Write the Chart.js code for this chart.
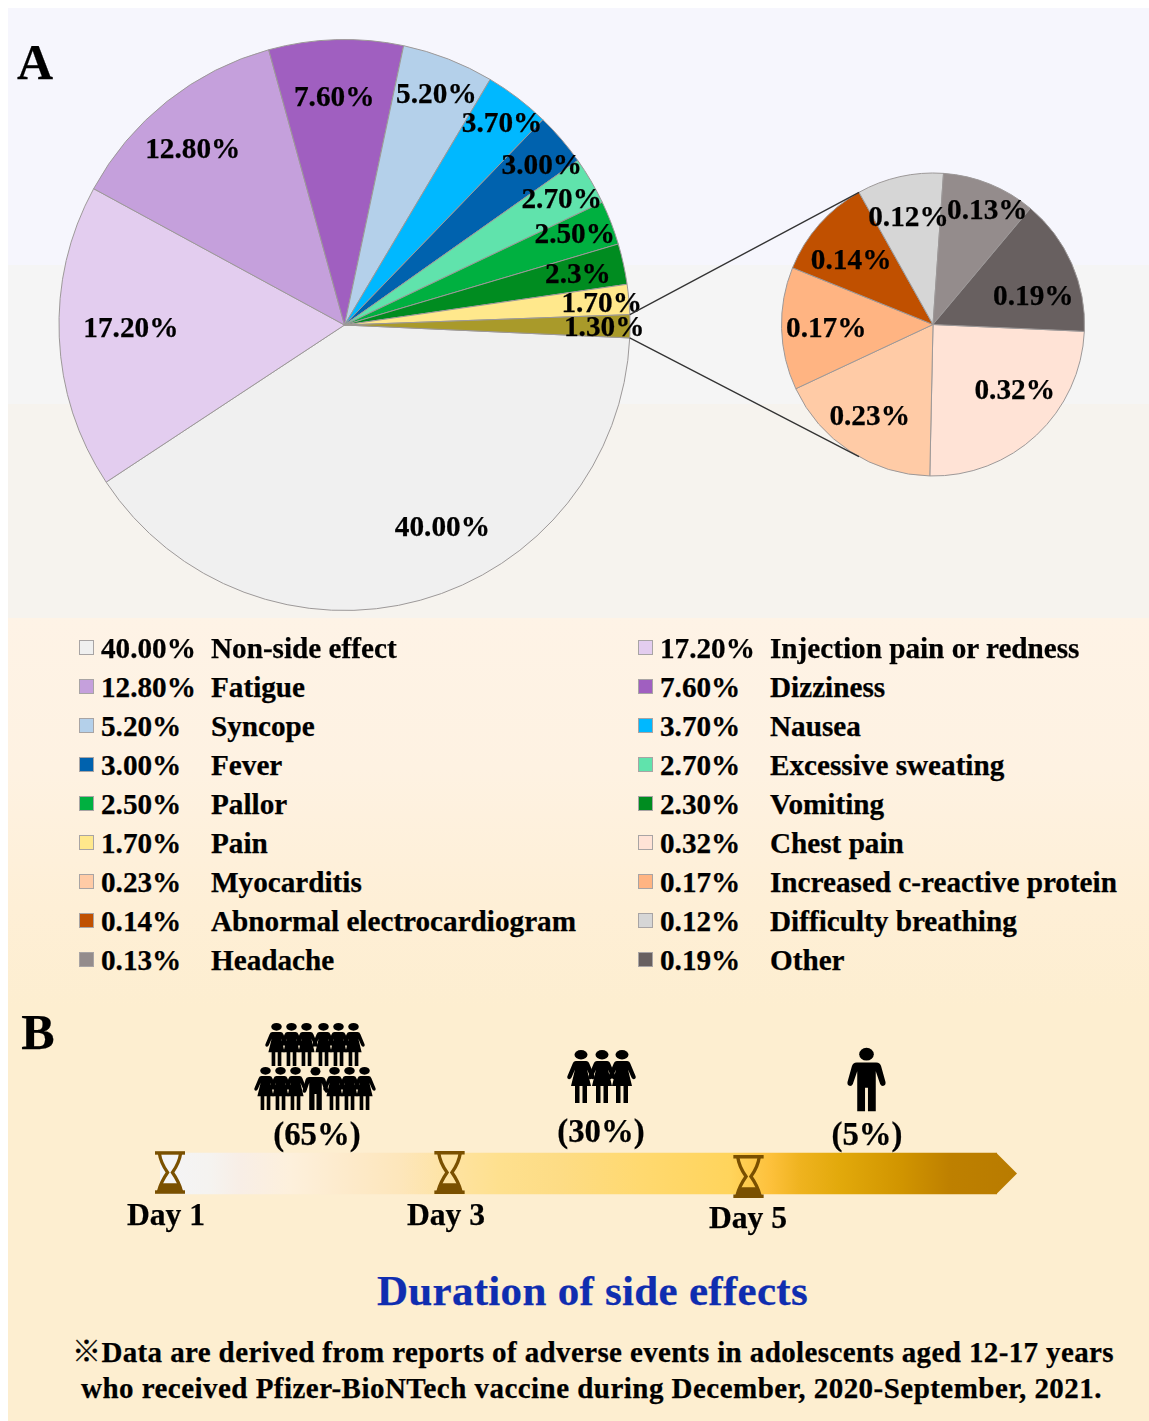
<!DOCTYPE html>
<html>
<head>
<meta charset="utf-8">
<script src="https://cdn.jsdelivr.net/npm/chart.js@4"></script>
<style>
html,body{margin:0;padding:0;background:#fff;}
#page{position:relative;width:1149px;height:1421px;overflow:hidden;font-family:"Liberation Serif","Noto Sans CJK JP",serif;font-weight:bold;color:#000;}
#bg{position:absolute;left:8px;top:8px;right:0;bottom:0;
background:linear-gradient(to bottom,#f6f6fd 0,#f6f6fd 257px,#f5f5f5 257px,#f5f5f5 396px,#f6f3ee 396px,#f6f3ee 610px,#fef3e6 610px,#fef2e2 760px,#feefd6 900px,#fdeed0 1000px,#fdeed0 100%);}
canvas{position:absolute;}
.t{position:absolute;white-space:nowrap;line-height:1;transform:translateY(-50%);-webkit-text-stroke:0.25px #000;}
.c{transform:translate(-50%,-50%);}
.sw{position:absolute;width:15px;height:15px;box-sizing:border-box;border:1px solid #a8a4a4;}
svg.icon{position:absolute;overflow:visible;}
</style>
</head>
<body>
<div id="page">
<div id="bg"></div>
<canvas id="mainPie" width="1149" height="640" style="left:0;top:0"></canvas>
<canvas id="subPie" width="1149" height="640" style="left:0;top:0"></canvas>
<canvas id="arrow" width="857" height="61" style="left:160px;top:1143px"></canvas>
<svg width="0" height="0" style="position:absolute">
<defs>
<symbol id="man" viewBox="0 0 40 65">
<ellipse cx="20" cy="6.5" rx="7.5" ry="6.5" fill="#000"/>
<path fill="#000" d="M10 15H30Q34 15 35 19L39.5 35Q40 38 37.5 39Q35 39.5 34 37L29.5 24V65H21.5V41H18.5V65H10.5V24L6 37Q5 39.5 2.5 39Q0 38 .5 35L5 19Q6 15 10 15Z"/>
</symbol>
<symbol id="woman" viewBox="0 0 28 53">
<ellipse cx="14" cy="4.7" rx="6.5" ry="4.7" fill="#000"/>
<path fill="#000" d="M9 11H19Q21.5 11 22.5 14L27.5 26Q28.5 28.5 26 29.3Q24.5 29.5 23.5 27.5L20 19.5L24 36H20V53H15.5V36H12.5V53H8V36H4L8 19.5L4.5 27.5Q3.5 29.5 2 29.3Q-.5 28.5 .5 26L5.5 14Q6.5 11 9 11Z"/>
</symbol>
<symbol id="glass" viewBox="0 0 31 44">
<rect x="0" y="0" width="31" height="3.6" fill="#7a5000"/>
<rect x="0" y="40.4" width="31" height="3.6" fill="#7a5000"/>
<path fill="none" stroke="#7a5000" stroke-width="3.4" d="M4.5 2C5.5 10 8 15 13 22C8 29 5.5 34 3.5 42M26.5 2C25.5 10 23 15 18 22C23 29 25.5 34 27.5 42"/>
<path fill="#7a5000" d="M6 33H25L29 42H2Z"/>
</symbol>
</defs>
</svg>
</div>
<script>
// ---------- DATA ----------
const mainCategories = ["Non-side effect","Injection pain or redness","Fatigue","Dizziness","Syncope","Nausea","Fever","Excessive sweating","Pallor","Vomiting","Pain","Other side effects"];
const mainValues = [40.00,17.20,12.80,7.60,5.20,3.70,3.00,2.70,2.50,2.30,1.70,1.30];
const mainLabels = ["40.00%","17.20%","12.80%","7.60%","5.20%","3.70%","3.00%","2.70%","2.50%","2.3%","1.70%","1.30%"];
const mainColors = ["#f0f0f0","#e3cdef","#c5a0dc","#a05fc0","#b4d0ea","#00b8ff","#0062ae","#60e3ac","#00b040","#008c20","#ffe88c","#a99a2a"];
const subCategories = ["Chest pain","Myocarditis","Increased c-reactive protein","Abnormal electrocardiogram","Difficulty breathing","Headache","Other"];
const subValues = [0.32,0.23,0.17,0.14,0.12,0.13,0.19];
const subLabels = ["0.32%","0.23%","0.17%","0.14%","0.12%","0.13%","0.19%"];
const subColors = ["#ffe3d6","#ffcba6","#ffb482","#c05000","#d6d6d6","#948c8c","#686060"];
const dayLabels = ["Day 1","Day 3","Day 5"];
const durationShares = ["(65%)","(30%)","(5%)"];
const timelineSpan = [[0,100]];

// ---------- LAYOUT (label nudges from each wedge's centre point, page placement) ----------
const ROTATION = 92.6;
const mainNudge = [[59,64],[-72,-4],[-64,-65],[-7,-86],[39,-99],[70,-89],[88,-68],[93,-54],[96,-40],[93,-21],[114,-10],[116,1]];
const subNudge = [[29,10],[-23,27],[-32,1],[-26,-15],[-9,-34],[25,-45],[30,1]];
const LABEL_FONT = 'bold 29.3px "Liberation Serif"';
const legendOrder = [
 ["m",0],["m",1],["m",2],["m",3],["m",4],["m",5],["m",6],["m",7],["m",8],["m",9],
 ["m",10],["s",0],["s",1],["s",2],["s",3],["s",4],["s",5],["s",6]];

const page = document.getElementById("page");
function text(str,x,y,size,opts){
  opts=opts||{};
  const d=document.createElement("div");
  d.className="t"+(opts.center?" c":"");
  d.textContent=str;
  d.style.left=x+"px"; d.style.top=y+"px"; d.style.fontSize=size+"px";
  if(opts.color){ d.style.color=opts.color; d.style.webkitTextStrokeColor=opts.color; }
  page.appendChild(d);
  if(opts.width){
    const natural=d.getBoundingClientRect().width;
    d.style.letterSpacing=((opts.width-natural)/str.length)+"px";
  }
  return d;
}

function wedgeLabels(labels,nudge){
  return {
    id:"wedgeLabels",
    afterDatasetsDraw(chart){
      const ctx=chart.ctx;
      ctx.save();
      ctx.font=LABEL_FONT; ctx.fillStyle="#000"; ctx.textAlign="center"; ctx.textBaseline="middle";
      ctx.strokeStyle="#000"; ctx.lineWidth=0.25;
      chart.getDatasetMeta(0).data.forEach((arc,i)=>{
        const p=arc.getCenterPoint();
        const x=p.x+nudge[i][0]+1, y=p.y+nudge[i][1]+2;
        ctx.fillText(labels[i],x,y); ctx.strokeText(labels[i],x,y);
      });
      ctx.restore();
    }
  };
}
function pie(id,cats,vals,cols,padding,plugins){
  return new Chart(document.getElementById(id),{
    type:"pie",
    data:{labels:cats,datasets:[{data:vals,backgroundColor:cols,borderColor:"#9c9898",borderWidth:1}]},
    options:{responsive:false,animation:false,rotation:ROTATION,layout:{padding},
      plugins:{legend:{display:false},tooltip:{enabled:false}}},
    plugins
  });
}
const mainChart=pie("mainPie",mainCategories,mainValues,mainColors,
  {left:58.5,top:38.5,right:518.5,bottom:28.5},[wedgeLabels(mainLabels,mainNudge)]);

const connectors={
  id:"connectors",
  afterDatasetsDraw(chart){
    const last=mainChart.getDatasetMeta(0).data[mainValues.length-1];
    const gate=chart.getDatasetMeta(0).data[3];
    const pt=(a,arc)=>[arc.x+arc.outerRadius*Math.cos(a),arc.y+arc.outerRadius*Math.sin(a)];
    const a1=pt(last.startAngle,last), a2=pt(last.endAngle,last);
    const b1=pt(gate.endAngle,gate), b2=pt(-gate.endAngle,gate);
    const ctx=chart.ctx;
    ctx.save(); ctx.strokeStyle="#333"; ctx.lineWidth=1.3;
    ctx.beginPath(); ctx.moveTo(a1[0],a1[1]); ctx.lineTo(b1[0],b1[1]);
    ctx.moveTo(a2[0],a2[1]); ctx.lineTo(b2[0],b2[1]); ctx.stroke();
    ctx.restore();
  }
};
pie("subPie",subCategories,subValues,subColors,
  {left:781,top:172.5,right:64,bottom:163.5},[wedgeLabels(subLabels,subNudge),connectors]);

// ---------- TIMELINE ARROW ----------
const arrowStops=[[160,"#f4f4f6"],[210,"#f5f3f0"],[240,"#f8eee6"],[290,"#fdf0dc"],[350,"#fdeaca"],[400,"#fde6bb"],[450,"#fee3a2"],[500,"#fee08e"],[560,"#fddc85"],[640,"#ffd970"],[730,"#ffd45c"],[770,"#fdc13c"],[800,"#efb31f"],[840,"#e2a90b"],[900,"#d19500"],[950,"#be8000"],[1017,"#b87b00"]];
function arrowFill(ctx){
  const g=ctx.createLinearGradient(0,0,857,0);
  arrowStops.forEach(s=>g.addColorStop((s[0]-160)/857,s[1]));
  return g;
}
const arrowTip={
  id:"arrowTip",
  afterDatasetsDraw(chart){
    const bar=chart.getDatasetMeta(0).data[0], ctx=chart.ctx, h=bar.height/2;
    ctx.save(); ctx.fillStyle=arrowFill(ctx);
    ctx.beginPath(); ctx.moveTo(bar.x-0.5,bar.y-h); ctx.lineTo(bar.x+20,bar.y); ctx.lineTo(bar.x-0.5,bar.y+h); ctx.closePath(); ctx.fill();
    ctx.restore();
  }
};
new Chart(document.getElementById("arrow"),{
  type:"bar",
  data:{labels:["Duration"],datasets:[{data:timelineSpan,backgroundColor:c=>arrowFill(c.chart.ctx),borderWidth:0,barThickness:41}]},
  options:{indexAxis:"y",responsive:false,animation:false,layout:{padding:{right:20}},
    scales:{x:{display:false,min:0,max:100},y:{display:false}},
    plugins:{legend:{display:false},tooltip:{enabled:false}}},
  plugins:[arrowTip]
});

// ---------- LEGEND ----------
const legendRowY=[649,688,727,766,805,844,883,922,961];
const fullPct={m:mainValues,s:subValues};
legendOrder.forEach((e,i)=>{
  const col=i%2, row=Math.floor(i/2), y=legendRowY[row];
  const base=col?638:79;
  const color=(e[0]==="m"?mainColors:subColors)[e[1]];
  const name=(e[0]==="m"?mainCategories:subCategories)[e[1]];
  const s=document.createElement("div");
  s.className="sw"; s.style.left=base+"px"; s.style.top=(y-9)+"px"; s.style.background=color;
  page.appendChild(s);
  text(fullPct[e[0]][e[1]].toFixed(2)+"%",base+22,y,29.2);
  text(name,base+132,y,29.2);
});

// ---------- TEXT ----------
text("A",35,62,50,{center:true});
text("B",38,1032,50,{center:true});
text(durationShares[0],317,1134,32.8,{center:true});
text(durationShares[1],601,1131,32.8,{center:true});
text(durationShares[2],867,1134,32.8,{center:true});
text(dayLabels[0],166,1215,31.6,{center:true});
text(dayLabels[1],446,1215,31.6,{center:true});
text(dayLabels[2],748,1218,31.6,{center:true});
text("Duration of side effects",377,1290,43,{color:"#0f2db0",width:431});
text("\u203bData are derived from reports of adverse events in adolescents aged 12-17 years",72,1352,29,{width:1042});
text("who received Pfizer-BioNTech vaccine during December, 2020-September, 2021.",81,1388,29,{width:1021});

// ---------- ICONS ----------
function icon(ref,x,y,w,h){
  const ns="http://www.w3.org/2000/svg";
  const s=document.createElementNS(ns,"svg");
  s.setAttribute("class","icon"); s.setAttribute("width",w); s.setAttribute("height",h);
  s.style.left=x+"px"; s.style.top=y+"px";
  const u=document.createElementNS(ns,"use"); u.setAttribute("href","#"+ref);
  u.setAttribute("width",w); u.setAttribute("height",h);
  s.appendChild(u); page.appendChild(s);
}
icon("glass",155,1151,30,43);
icon("glass",434,1151,31,43);
icon("glass",733,1155,31,43);
[276.7,291.7,306.7,323.3,338.3,353.3].forEach(x=>icon("woman",x-11.5,1023,23,43));
[265,280,295,334.3,349.3,364.3].forEach(x=>icon("woman",x-11.5,1066.5,23,43));
icon("man",315-13.5,1066.5,27,43);
[580.7,601.7,622].forEach(x=>icon("woman",x-14,1050,28,53));
icon("man",847,1047,39,65);
</script>
</body>
</html>
